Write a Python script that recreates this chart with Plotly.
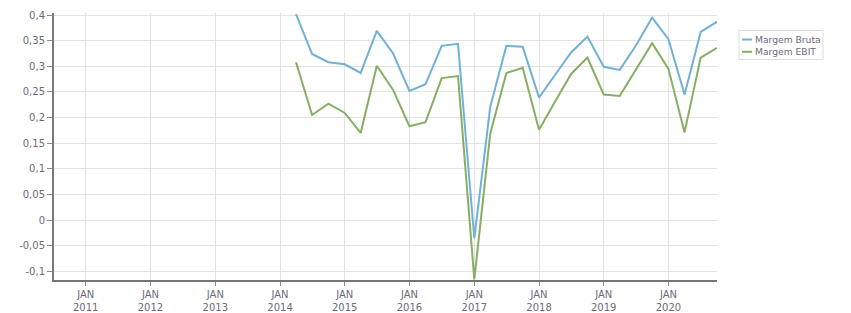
import plotly.graph_objects as go

quarters = ["2014-04-01", "2014-07-01", "2014-10-01",
            "2015-01-01", "2015-04-01", "2015-07-01", "2015-10-01",
            "2016-01-01", "2016-04-01", "2016-07-01", "2016-10-01",
            "2017-01-01", "2017-04-01", "2017-07-01", "2017-10-01",
            "2018-01-01", "2018-04-01", "2018-07-01", "2018-10-01",
            "2019-01-01", "2019-04-01", "2019-07-01", "2019-10-01",
            "2020-01-01", "2020-04-01", "2020-07-01", "2020-10-01"]

margem_bruta = [0.402, 0.324, 0.308, 0.304, 0.287, 0.369, 0.325,
                0.252, 0.265, 0.340, 0.344, -0.036, 0.221, 0.340,
                0.338, 0.239, 0.283, 0.327, 0.358, 0.299, 0.293,
                0.340, 0.395, 0.353, 0.245, 0.367, 0.387]

margem_ebit = [0.308, 0.205, 0.227, 0.209, 0.170, 0.301, 0.254,
               0.183, 0.191, 0.277, 0.281, -0.116, 0.169, 0.287,
               0.297, 0.176, 0.231, 0.285, 0.317, 0.245, 0.242,
               0.293, 0.345, 0.295, 0.171, 0.317, 0.336]

series_names = ["Margem Bruta", "Margem EBIT"]
series_colors = ["#72b1d6", "#86ae64"]

year_ticks = ["2011-01-01", "2012-01-01", "2013-01-01", "2014-01-01", "2015-01-01",
              "2016-01-01", "2017-01-01", "2018-01-01", "2019-01-01", "2020-01-01"]
year_labels = ["JAN<br>2011", "JAN<br>2012", "JAN<br>2013", "JAN<br>2014", "JAN<br>2015",
               "JAN<br>2016", "JAN<br>2017", "JAN<br>2018", "JAN<br>2019", "JAN<br>2020"]

y_ticks = [-0.1, -0.05, 0, 0.05, 0.1, 0.15, 0.2, 0.25, 0.3, 0.35, 0.4]
y_labels = ["-0,1", "-0,05", "0", "0,05", "0,1", "0,15", "0,2", "0,25", "0,3", "0,35", "0,4"]

text_color = "#6b6b78"
W, H = 851, 313
ML, MR, MT, MB = 54, 134, 13, 33
PW, PH = W - ML - MR, H - MT - MB


def px_x(px):
    return (px - ML) / PW


def px_y(py):
    return (H - MB - py) / PH


fig = go.Figure()
for name, vals, col in zip(series_names, [margem_bruta, margem_ebit], series_colors):
    fig.add_trace(go.Scatter(x=quarters, y=vals, mode="lines", name=name,
                             line=dict(color=col, width=2), showlegend=False))

# custom legend (box, short line symbols, labels)
shapes = [dict(type="rect", xref="paper", yref="paper",
               x0=px_x(739), x1=px_x(823), y0=px_y(59.5), y1=px_y(30.5),
               line=dict(color="#dddddd", width=1), fillcolor="white", layer="above")]
annotations = []
for i, (name, col) in enumerate(zip(series_names, series_colors)):
    yc = 39.5 + i * 12.3
    shapes.append(dict(type="line", xref="paper", yref="paper",
                       x0=px_x(742), x1=px_x(752), y0=px_y(yc), y1=px_y(yc),
                       line=dict(color=col, width=2), layer="above"))
    annotations.append(dict(xref="paper", yref="paper", x=px_x(752.5), y=px_y(yc),
                            xanchor="left", yanchor="middle", showarrow=False,
                            text=name, font=dict(family="DejaVu Sans", size=9.2, color=text_color)))

fig.update_layout(
    width=W, height=H,
    margin=dict(l=ML, r=MR, t=MT, b=MB, autoexpand=False),
    paper_bgcolor="white", plot_bgcolor="white",
    font=dict(family="DejaVu Sans", size=10, color=text_color),
    showlegend=False,
    shapes=shapes,
    annotations=annotations,
    xaxis=dict(type="date", range=["2010-07-06", "2020-10-01"],
               tickvals=year_ticks, ticktext=year_labels,
               showgrid=True, gridcolor="#e3e3e3", gridwidth=1,
               showline=True, linecolor="#757575", linewidth=2,
               ticks="outside", ticklen=4, tickcolor="#8a8a8a",
               zeroline=False, automargin=False,
               tickfont=dict(size=10, color=text_color)),
    yaxis=dict(range=[-0.117, 0.404],
               tickvals=y_ticks, ticktext=y_labels,
               showgrid=True, gridcolor="#e3e3e3", gridwidth=1,
               showline=True, linecolor="#7a7a7a", linewidth=2,
               ticks="outside", ticklen=5, tickcolor="#8a8a8a",
               zeroline=False, automargin=False,
               tickfont=dict(size=10, color=text_color)),
)

fig.write_html("out.html")
